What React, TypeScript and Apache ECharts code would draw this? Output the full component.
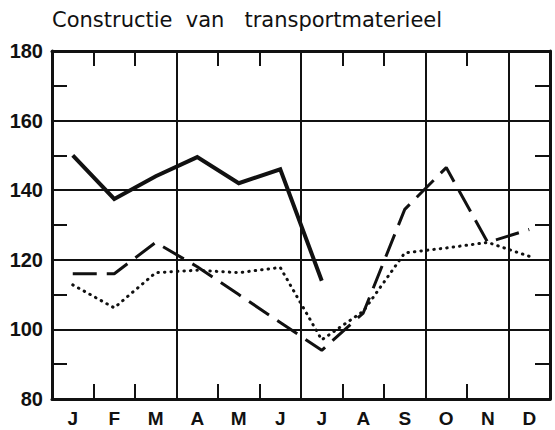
import React, { useEffect, useRef } from "react";
import * as echarts from "echarts";

const months = ["J", "F", "M", "A", "M", "J", "J", "A", "S", "O", "N", "D"];
const solidSeries = [150, 137.5, 144, 149.5, 142, 146, 114, null, null, null, null, null];
const dashedSeries = [116, 116, 125, 118, 110, 102, 94, 104.7, 134.5, 146.5, 125, 128.7];
const dottedSeries = [112.8, 106.2, 116.3, 117, 116.3, 117.8, 97, 105.2, 122, 123.4, 125, 121];
const titleText = "Constructie  van   transportmaterieel";

const ink = "#111";
const FONT = "Liberation Sans";

export default function App() {
  const ref = useRef<HTMLDivElement>(null);
  useEffect(() => {
    if (!ref.current) return;
    const chart = echarts.init(ref.current, null, { renderer: "svg" });
    const yBase = {
      type: "value" as const,
      min: 80,
      max: 180,
      interval: 20,
      axisLine: { show: true, lineStyle: { color: ink, width: 3 } },
      axisTick: { show: true, inside: true, length: 15, lineStyle: { color: ink, width: 2 } },
      minorTick: { show: true, splitNumber: 2, length: 15, lineStyle: { color: ink, width: 2 } },
      splitLine: { show: false },
    };
    const xBase = {
      type: "category" as const,
      data: months,
      boundaryGap: true,
      axisLine: { show: true, lineStyle: { color: ink, width: 3 } },
      axisTick: { show: true, inside: true, length: 15, interval: 0, lineStyle: { color: ink, width: 2 } },
    };
    chart.setOption({
      animation: false,
      backgroundColor: "#fff",
      title: {
        text: titleText,
        left: 52,
        top: 9,
        padding: 0,
        textStyle: { fontFamily: "DejaVu Sans", fontSize: 21, fontWeight: "normal", color: ink },
      },
      grid: { left: 52, right: 5, top: 51, bottom: 31 },
      xAxis: [
        {
          ...xBase,
          position: "bottom",
          axisLabel: { interval: 0, color: ink, fontFamily: FONT, fontSize: 19, fontWeight: "bold", margin: 10 },
          splitLine: { show: true, interval: 2, lineStyle: { color: ink, width: 2 } },
        },
        {
          ...xBase,
          position: "top",
          axisLabel: { show: false },
          splitLine: { show: false },
        },
      ],
      yAxis: [
        {
          ...yBase,
          position: "left",
          axisLabel: { color: ink, fontFamily: FONT, fontSize: 20, fontWeight: "bold", margin: 9 },
          splitLine: { show: true, lineStyle: { color: ink, width: 2 } },
        },
        {
          ...yBase,
          position: "right",
          axisLabel: { show: false },
        },
      ],
      series: [
        {
          type: "line",
          data: solidSeries,
          symbol: "none",
          connectNulls: false,
          lineStyle: { color: ink, width: 4, join: "miter" },
          z: 5,
        },
        {
          type: "line",
          data: dashedSeries,
          symbol: "none",
          lineStyle: { color: ink, width: 3, type: [24, 10] },
          z: 4,
        },
        {
          type: "line",
          data: dottedSeries,
          symbol: "none",
          lineStyle: { color: ink, width: 3, type: [0.5, 6], cap: "round" },
          z: 3,
        },
      ],
    });
    return () => chart.dispose();
  }, []);
  return <div ref={ref} style={{ width: 555, height: 430, position: "absolute", left: 0, top: 0 }} />;
}
